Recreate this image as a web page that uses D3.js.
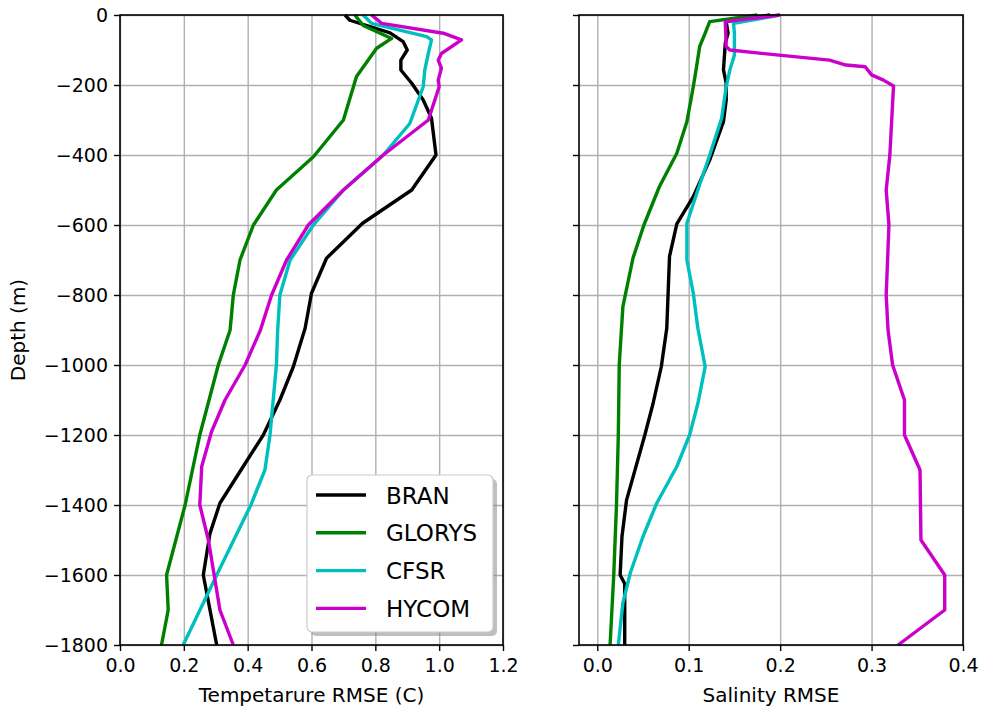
<!DOCTYPE html>
<html>
<head>
<meta charset="utf-8">
<script src="https://cdn.jsdelivr.net/npm/d3@7"></script>
<style>
  body { margin: 0; background: #fff; }
  text { font-family: "DejaVu Sans", sans-serif; }
</style>
</head>
<body>
<div id="chart"></div>
<script>
// series names / colours
var names = ["BRAN", "GLORYS", "CFSR", "HYCOM"];
var colors = ["#000000", "#008000", "#00bfbf", "#cc00cc"];

// temperature RMSE profiles (depth in m, value in C)
var branTempDepth = [0, -15, -51, -76, -100, -129, -157, -195, -243, -295, -400, -500, -595, -695, -795, -895, -1005, -1100, -1200, -1290, -1395, -1481, -1600, -1800];
var branTemp = [0.705, 0.72, 0.846, 0.887, 0.90, 0.88, 0.88, 0.914, 0.95, 0.976, 0.99, 0.914, 0.76, 0.647, 0.60, 0.58, 0.543, 0.501, 0.449, 0.386, 0.313, 0.282, 0.261, 0.303];
var glorysTempDepth = [0, -30, -67, -95, -176, -300, -405, -500, -600, -700, -800, -900, -1000, -1200, -1400, -1600, -1700, -1800];
var glorysTemp = [0.736, 0.762, 0.851, 0.804, 0.741, 0.70, 0.606, 0.49, 0.418, 0.376, 0.355, 0.345, 0.308, 0.25, 0.204, 0.146, 0.151, 0.13];
var cfsrTempDepth = [0, -24, -62, -71, -110, -157, -205, -310, -400, -500, -600, -700, -800, -900, -1000, -1200, -1300, -1400, -1600, -1800];
var cfsrTemp = [0.762, 0.788, 0.961, 0.976, 0.966, 0.955, 0.95, 0.908, 0.825, 0.70, 0.606, 0.533, 0.501, 0.494, 0.49, 0.47, 0.454, 0.41, 0.303, 0.198];
var hycomTempDepth = [0, -24, -52, -71, -110, -129, -152, -186, -205, -300, -400, -500, -600, -700, -800, -900, -1000, -1100, -1190, -1290, -1400, -1500, -1700, -1800];
var hycomTemp = [0.788, 0.82, 1.013, 1.07, 1.007, 0.997, 1.007, 0.997, 1.0, 0.966, 0.825, 0.70, 0.59, 0.522, 0.475, 0.44, 0.392, 0.329, 0.287, 0.256, 0.25, 0.277, 0.313, 0.355];

// salinity RMSE profiles
var branSaltDepth = [0, -19, -52, -81, -157, -195, -243, -305, -414, -519, -597, -690, -895, -1005, -1110, -1200, -1386, -1490, -1600, -1625, -1800];
var branSalt = [0.189, 0.141, 0.143, 0.140, 0.138, 0.141, 0.141, 0.138, 0.123, 0.105, 0.087, 0.079, 0.076, 0.070, 0.061, 0.052, 0.032, 0.027, 0.025, 0.030, 0.030];
var glorysSaltDepth = [0, -19, -52, -90, -157, -205, -305, -395, -490, -600, -695, -833, -1000, -1200, -1400, -1600, -1800];
var glorysSalt = [0.175, 0.123, 0.118, 0.112, 0.108, 0.105, 0.098, 0.087, 0.068, 0.051, 0.039, 0.028, 0.024, 0.023, 0.021, 0.018, 0.014];
var cfsrSaltDepth = [0, -24, -52, -114, -157, -205, -295, -400, -500, -595, -700, -795, -895, -1005, -1110, -1200, -1290, -1395, -1490, -1595, -1680, -1800];
var cfsrSalt = [0.2, 0.149, 0.150, 0.150, 0.145, 0.141, 0.136, 0.123, 0.110, 0.098, 0.098, 0.105, 0.110, 0.118, 0.110, 0.101, 0.087, 0.065, 0.050, 0.036, 0.028, 0.023];
var hycomSaltDepth = [0, -19, -90, -100, -114, -129, -143, -148, -171, -186, -203, -400, -500, -600, -800, -900, -1000, -1100, -1200, -1300, -1500, -1600, -1700, -1800];
var hycomSalt = [0.2, 0.14, 0.141, 0.145, 0.196, 0.254, 0.272, 0.293, 0.30, 0.313, 0.324, 0.320, 0.316, 0.319, 0.316, 0.318, 0.323, 0.336, 0.336, 0.353, 0.354, 0.380, 0.380, 0.329];

// ticks
var depthTicks = [0, -200, -400, -600, -800, -1000, -1200, -1400, -1600, -1800];
var tempTicks = [0.0, 0.2, 0.4, 0.6, 0.8, 1.0, 1.2];
var saltTicks = [0.0, 0.1, 0.2, 0.3, 0.4];

var W = 983, H = 706;
var svg = d3.select("#chart").append("svg")
    .attr("width", W)
    .attr("height", H);

var y = d3.scaleLinear().domain([-1800, 0]).range([645, 15]);

function zip(depths, vals) {
    return depths.map(function (d, i) { return [vals[i], d]; });
}

function panel(x, xTicks, series, xLabel, showYLabels) {
    var x0 = x.range()[0], x1 = x.range()[1];
    var g = svg.append("g");

    // grid
    g.append("g")
        .attr("transform", "translate(0,645)")
        .call(d3.axisBottom(x).tickValues(xTicks).tickSize(-630).tickFormat(""))
        .call(function (a) { a.select(".domain").remove(); })
        .selectAll("line").attr("stroke", "#b0b0b0").attr("stroke-width", 1.4);
    g.append("g")
        .attr("transform", "translate(" + x0 + ",0)")
        .call(d3.axisLeft(y).tickValues(depthTicks).tickSize(-(x1 - x0)).tickFormat(""))
        .call(function (a) { a.select(".domain").remove(); })
        .selectAll("line").attr("stroke", "#b0b0b0").attr("stroke-width", 1.4);

    // lines
    var line = d3.line()
        .x(function (d) { return x(d[0]); })
        .y(function (d) { return y(d[1]); });
    series.forEach(function (s, i) {
        g.append("path")
            .datum(s)
            .attr("fill", "none")
            .attr("stroke", colors[i])
            .attr("stroke-width", 3.4)
            .attr("stroke-linejoin", "round")
            .attr("d", line);
    });

    // frame
    g.append("rect")
        .attr("x", x0).attr("y", 15)
        .attr("width", x1 - x0).attr("height", 630)
        .attr("fill", "none").attr("stroke", "#000").attr("stroke-width", 1.6);

    // axes
    var xa = g.append("g")
        .attr("transform", "translate(0,645)")
        .call(d3.axisBottom(x).tickValues(xTicks).tickSize(6).tickPadding(8).tickFormat(d3.format(".1f")));
    var ya = g.append("g")
        .attr("transform", "translate(" + x0 + ",0)")
        .call(d3.axisLeft(y).tickValues(depthTicks).tickSize(6).tickPadding(6)
            .tickFormat(showYLabels ? function (d) { return d3.format("d")(d).replace("-", "\u2212"); } : ""));
    [xa, ya].forEach(function (a) {
        a.select(".domain").remove();
        a.selectAll("line").attr("stroke", "#000").attr("stroke-width", 1.4);
        a.selectAll("text").attr("font-size", 19).attr("fill", "#000")
            .style("font-family", "'DejaVu Sans', sans-serif");
    });

    g.append("text")
        .attr("x", (x0 + x1) / 2).attr("y", 702)
        .attr("text-anchor", "middle")
        .attr("font-size", 20)
        .text(xLabel);
    return g;
}

var xT = d3.scaleLinear().domain([0, 1.2]).range([120, 503]);
var xS = d3.scaleLinear().domain([-0.02, 0.4]).range([579, 963]);

panel(xT, tempTicks, [
    zip(branTempDepth, branTemp),
    zip(glorysTempDepth, glorysTemp),
    zip(cfsrTempDepth, cfsrTemp),
    zip(hycomTempDepth, hycomTemp)
], "Tempetarure RMSE (C)", true);

panel(xS, saltTicks, [
    zip(branSaltDepth, branSalt),
    zip(glorysSaltDepth, glorysSalt),
    zip(cfsrSaltDepth, cfsrSalt),
    zip(hycomSaltDepth, hycomSalt)
], "Salinity RMSE", false);

svg.append("text")
    .attr("transform", "translate(25,330) rotate(-90)")
    .attr("text-anchor", "middle")
    .attr("font-size", 20)
    .text("Depth (m)");

// legend (lower right of the left panel)
var lg = svg.append("g").attr("transform", "translate(307,475)");
lg.append("rect")
    .attr("x", 4).attr("y", 4).attr("width", 186).attr("height", 157)
    .attr("rx", 5).attr("fill", "#808080").attr("opacity", 0.5);
lg.append("rect")
    .attr("width", 186).attr("height", 157)
    .attr("rx", 5).attr("fill", "#fff").attr("stroke", "#cccccc").attr("stroke-width", 1.2);
names.forEach(function (n, i) {
    var ry = 20 + i * 37.8;
    lg.append("line")
        .attr("x1", 9).attr("x2", 59).attr("y1", ry).attr("y2", ry)
        .attr("stroke", colors[i]).attr("stroke-width", 3.4);
    lg.append("text")
        .attr("x", 79).attr("y", ry + 8.5)
        .attr("font-size", 23)
        .text(n);
});
</script>
</body>
</html>
